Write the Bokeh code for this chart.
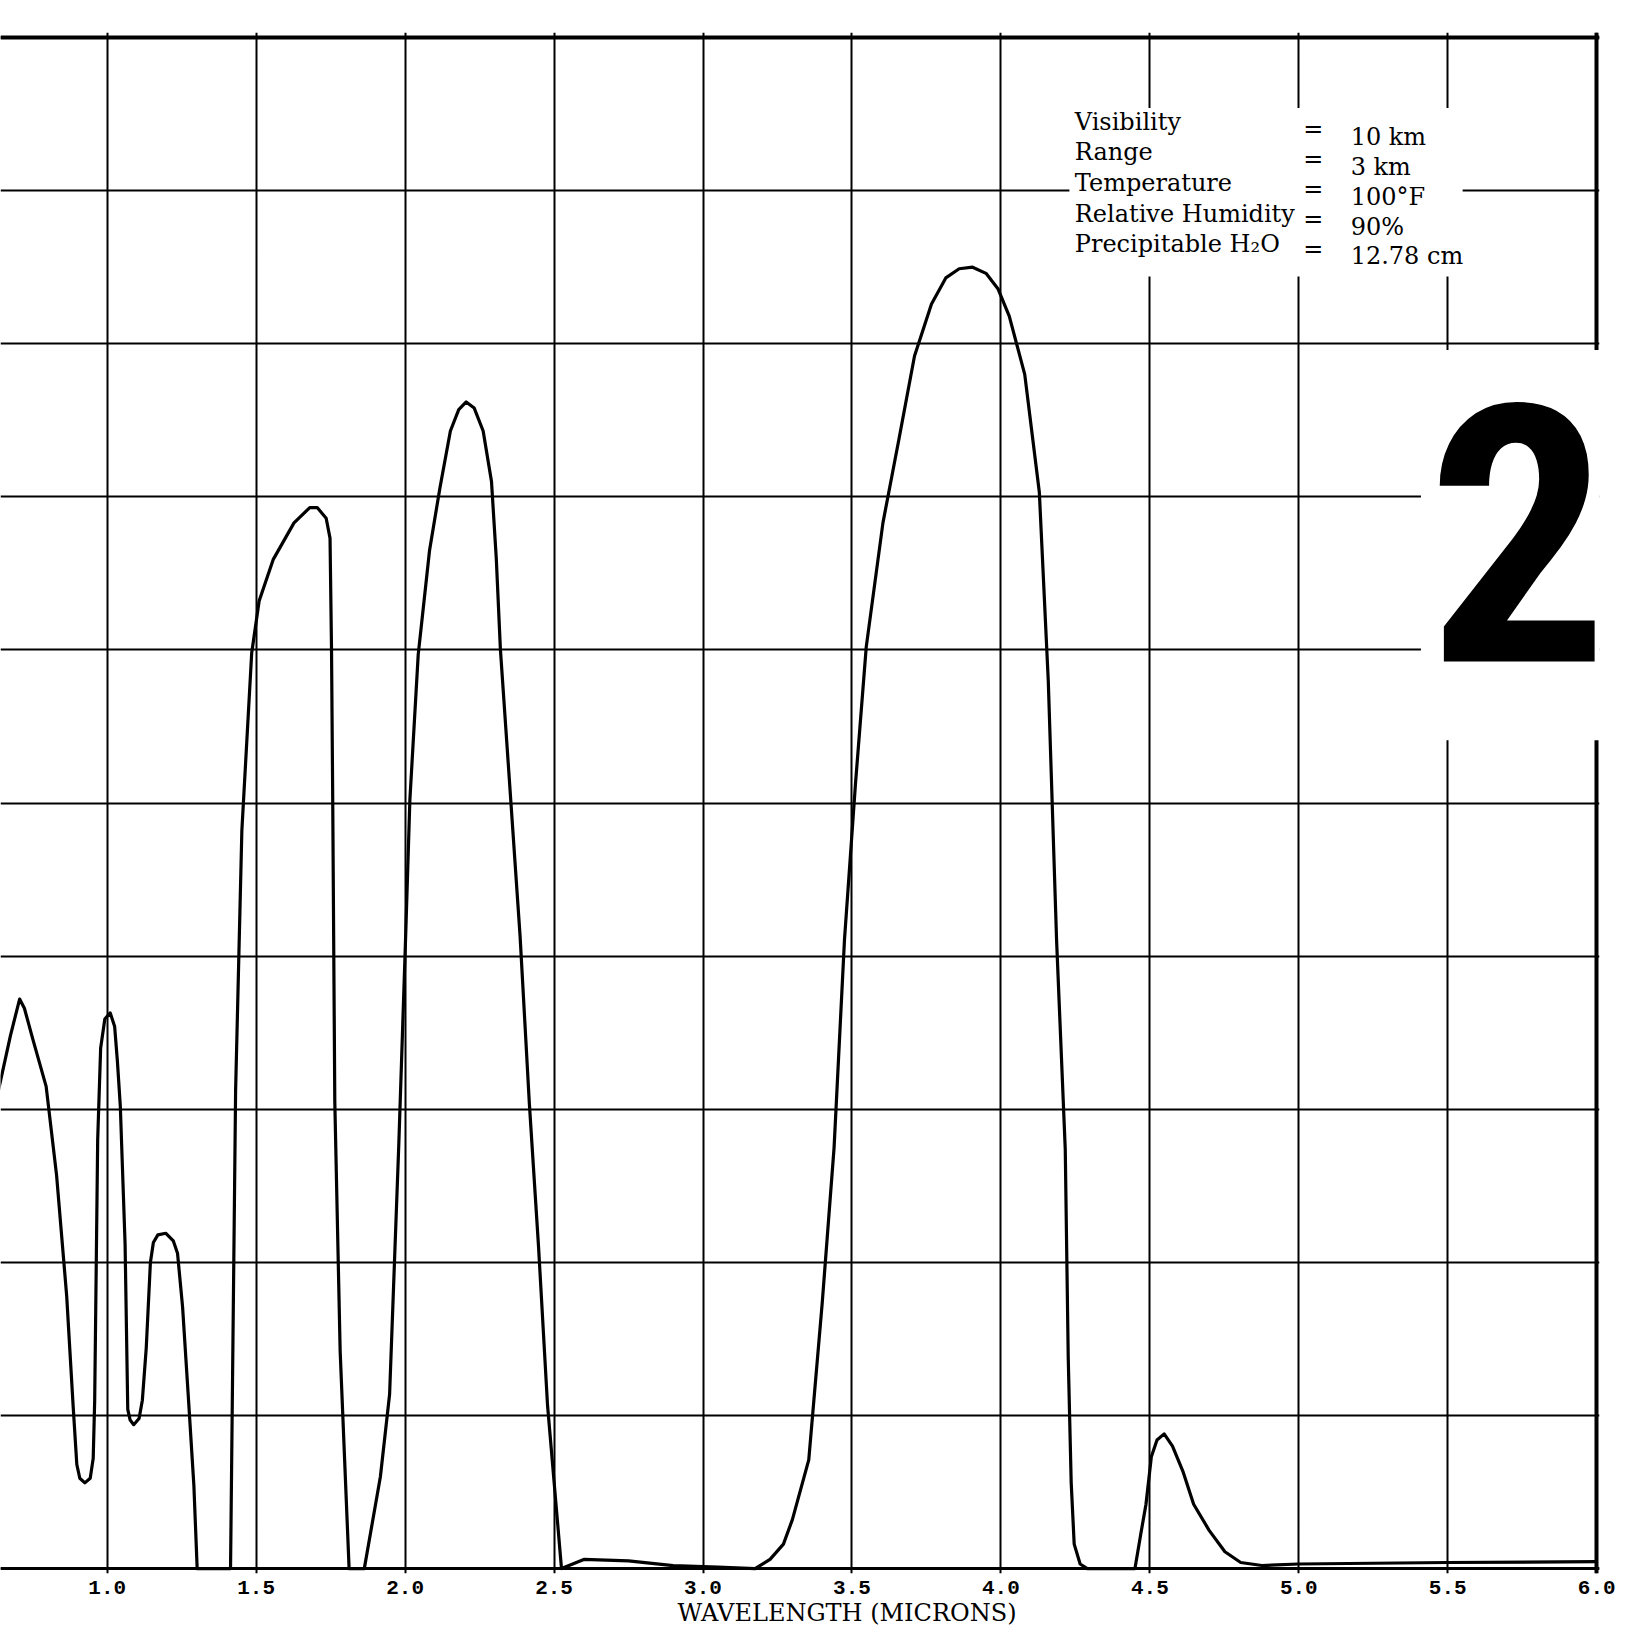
from bokeh.plotting import figure
from bokeh.models import FixedTicker, Grid, Label, ColumnDataSource, Title
from bokeh.core.properties import value
from bokeh.embed import file_html
from bokeh.resources import INLINE

# ---- data ----
wavelength = [
    0.630, 0.675, 0.706, 0.722, 0.750, 0.795, 0.830, 0.864, 0.886, 0.898, 0.908, 0.925, 0.943, 0.953,
    0.958, 0.962, 0.968, 0.978, 0.992, 1.010, 1.025, 1.034, 1.044, 1.060, 1.069, 1.077, 1.089, 1.107,
    1.118, 1.131, 1.145, 1.155, 1.170, 1.197, 1.222, 1.236, 1.253, 1.273, 1.291, 1.302,
    1.414, 1.431, 1.452, 1.485, 1.510, 1.557, 1.627, 1.680, 1.705, 1.735, 1.748, 1.753, 1.757, 1.764, 1.782, 1.812,
    1.863, 1.917, 1.948, 1.979, 2.002, 2.016, 2.044, 2.082, 2.117, 2.152, 2.180, 2.205, 2.232, 2.262,
    2.290, 2.306, 2.320, 2.355, 2.386, 2.417, 2.448, 2.478, 2.525,
    2.600, 2.750, 2.900, 3.050, 3.175,
    3.225, 3.270, 3.300, 3.355, 3.400, 3.440, 3.475, 3.512, 3.548, 3.604, 3.658, 3.710, 3.767, 3.815,
    3.860, 3.905, 3.950, 3.990, 4.028, 4.080, 4.129, 4.159, 4.187, 4.216, 4.226, 4.236, 4.246, 4.266, 4.290,
    4.450, 4.469, 4.487, 4.505, 4.524, 4.548, 4.576, 4.612, 4.647, 4.699, 4.752, 4.805, 4.876,
    5.000, 5.500, 6.000,
]
transmission = [
    30.8, 34.8, 37.2, 36.6, 34.6, 31.5, 25.7, 17.8, 10.5, 6.8, 5.9, 5.6, 5.9, 7.2,
    11.0, 17.8, 28.0, 34.0, 35.9, 36.3, 35.4, 33.2, 30.2, 21.2, 10.4, 9.7, 9.4, 9.8,
    11.0, 14.4, 20.0, 21.3, 21.8, 21.9, 21.4, 20.6, 17.1, 11.0, 5.4, 0.0,
    0.0, 31.2, 48.2, 59.8, 63.2, 65.9, 68.3, 69.3, 69.3, 68.6, 67.3, 60.0, 50.3, 30.5, 14.2, 0.0,
    0.0, 6.0, 11.4, 27.8, 41.4, 50.2, 59.7, 66.5, 70.6, 74.3, 75.7, 76.2, 75.8, 74.3,
    71.0, 66.0, 60.0, 50.1, 41.3, 30.4, 21.0, 10.7, 0.0,
    0.6, 0.5, 0.2, 0.1, 0.0,
    0.6, 1.6, 3.2, 7.1, 17.3, 27.5, 41.1, 51.3, 60.2, 68.3, 73.8, 79.2, 82.6, 84.3,
    84.9, 85.0, 84.6, 83.6, 81.8, 78.0, 70.3, 58.0, 41.0, 27.4, 13.8, 5.6, 1.6, 0.3, 0.0,
    0.0, 2.2, 4.2, 7.3, 8.4, 8.8, 8.0, 6.3, 4.2, 2.5, 1.1, 0.4, 0.2,
    0.3, 0.4, 0.45,
]
x_ticks = [1.0, 1.5, 2.0, 2.5, 3.0, 3.5, 4.0, 4.5, 5.0, 5.5, 6.0]
x_tick_labels = ["1.0", "1.5", "2.0", "2.5", "3.0", "3.5", "4.0", "4.5", "5.0", "5.5", "6.0"]
y_grid = [0, 10, 20, 30, 40, 50, 60, 70, 80, 90, 100]
x_title = "WAVELENGTH (MICRONS)"
condition_names = ["Visibility", "Range", "Temperature", "Relative Humidity", "Precipitable H\u2082O"]
condition_values = ["10 km", "3 km", "100\u00b0F", "90%", "12.78 cm"]
chart_number = "2"

# ---- figure ----
p = figure(width=1633, height=1633, output_backend="svg", toolbar_location=None,
           x_range=(0.6418, 6.0094), y_range=(-0.32, 100.33),
           y_axis_location=None, min_border_left=0, min_border_right=34,
           min_border_top=32, min_border_bottom=60)
p.outline_line_color = None
p.background_fill_color = "white"
p.border_fill_color = "white"

# grid
p.xgrid.ticker = FixedTicker(ticks=x_ticks)
p.xgrid.grid_line_color = "black"
p.xgrid.grid_line_width = 2
yg = Grid(dimension=1, ticker=FixedTicker(ticks=y_grid), grid_line_color="black", grid_line_width=2)
p.add_layout(yg)
p.add_layout(Grid(dimension=0, ticker=FixedTicker(ticks=[x_ticks[-1]]), grid_line_color="black", grid_line_width=4))
p.add_layout(Grid(dimension=1, ticker=FixedTicker(ticks=[y_grid[-1]]), grid_line_color="black", grid_line_width=4))
p.add_layout(Grid(dimension=1, ticker=FixedTicker(ticks=[y_grid[0]]), grid_line_color="black", grid_line_width=3))

# x axis
ax = p.xaxis[0]
ax.ticker = FixedTicker(ticks=x_ticks)
ax.major_label_overrides = {t: l for t, l in zip(x_ticks, x_tick_labels)}
ax.axis_line_color = None
ax.major_tick_line_color = None
ax.minor_tick_line_color = None
ax.major_tick_out = 0
ax.major_label_standoff = 7
ax.major_label_text_font = "Liberation Mono"
ax.major_label_text_font_style = "bold"
ax.major_label_text_font_size = "21px"
ax.major_label_text_color = "black"

# axis title, sitting under the 3.5 grid line as on the original sheet
p.add_layout(Title(text=x_title, align="left", offset=677, standoff=0,
                   text_font="DejaVu Serif", text_font_style="normal",
                   text_font_size="24px", text_color="black"), "below")

# white boxes (paste-over areas of the original sheet)
p.quad(left=[4.23, 5.41], right=[5.55, 6.2], bottom=[84.4, 54.1], top=[95.4, 79.6],
       fill_color="white", line_color=None)

# curve
p.line(wavelength, transmission, line_color="black", line_width=3.2, line_join="round")

# conditions block
n = len(condition_names)
name_y = [94.5 - 2.0 * i for i in range(n)]
eq_y = [94.0 - 1.95 * i for i in range(n)]
val_y = [93.5 - 1.95 * i for i in range(n)]
src_names = ColumnDataSource(dict(x=[4.248] * n, y=name_y, t=condition_names))
src_eq = ColumnDataSource(dict(x=[5.015] * n, y=eq_y, t=["="] * n))
src_vals = ColumnDataSource(dict(x=[5.174] * n, y=val_y, t=condition_values))
for src in (src_names, src_eq, src_vals):
    p.text(x="x", y="y", text="t", source=src, text_font=value("DejaVu Serif"),
           text_font_size="24px", text_baseline="middle", text_align="left", text_color="black")

# big chart number
p.add_layout(Label(x=5.736, y=67.7, text=chart_number, text_align="center", text_baseline="middle",
                   text_font="Noto Sans ExtraCondensed, Roboto Condensed, Noto Sans Condensed, Liberation Sans",
                   text_font_style="bold", text_font_size="360px", text_color="black"))

open("out.html", "w").write(file_html(p, INLINE))
